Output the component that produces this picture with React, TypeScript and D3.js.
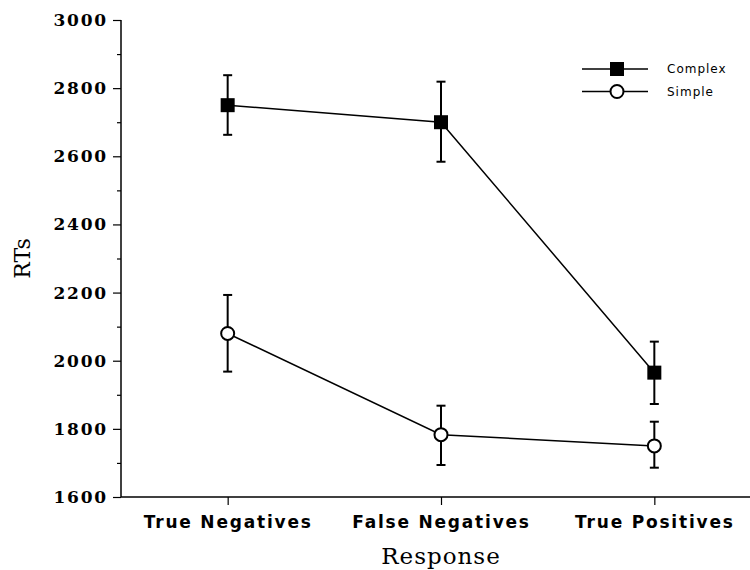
import React, { useEffect, useRef } from "react";
import * as d3 from "d3";

const categories = ["True Negatives", "False Negatives", "True Positives"];
const complexMeans = [2750, 2700, 1965];
const complexLow = [2663, 2584, 1873];
const complexHigh = [2838, 2819, 2056];
const simpleMeans = [2080, 1783, 1750];
const simpleLow = [1968, 1694, 1686];
const simpleHigh = [2193, 1868, 1821];
const yTicks = [1600, 1800, 2000, 2200, 2400, 2600, 2800, 3000];
const yMinorTicks = [1700, 1900, 2100, 2300, 2500, 2700, 2900];

const width = 750;
const height = 570;
const margin = { top: 20, left: 121, bottom: 73 };

export default function App() {
  const ref = useRef<SVGSVGElement>(null);

  useEffect(() => {
    const svg = d3.select(ref.current);
    svg.selectAll("*").remove();

    const x = d3.scalePoint().domain(categories).range([margin.left, 761]).padding(0.5);
    const y = d3.scaleLinear().domain([1600, 3000]).range([height - margin.bottom, margin.top]);

    // y axis
    const yAxis = svg.append("g").attr("transform", `translate(${margin.left},0)`)
      .call(d3.axisLeft(y).tickValues(yTicks).tickSize(8).tickPadding(5).tickFormat(d3.format("d")));
    yAxis.select(".domain").attr("stroke", "#000").attr("stroke-width", 1.5).attr("d", `M0,${y(3000)}V${y(1600)}`);
    yAxis.selectAll(".tick line").attr("stroke", "#000").attr("stroke-width", 1.2);
    yAxis.selectAll(".tick text")
      .style("font-family", "DejaVu Serif")
      .style("font-weight", "bold")
      .style("font-size", "17px")
      .style("letter-spacing", "1.8px")
      .attr("fill", "#000");

    const yMinor = svg.append("g").attr("transform", `translate(${margin.left},0)`)
      .call(d3.axisLeft(y).tickValues(yMinorTicks).tickSize(4).tickFormat(() => ""));
    yMinor.select(".domain").remove();
    yMinor.selectAll(".tick line").attr("stroke", "#000").attr("stroke-width", 1.2);

    // x axis
    const xAxis = svg.append("g").attr("transform", `translate(0,${y(1600)})`)
      .call(d3.axisBottom(x).tickSize(8).tickPadding(11));
    xAxis.select(".domain").attr("stroke", "#000").attr("stroke-width", 1.5).attr("d", `M${margin.left},0H${width}`);
    xAxis.selectAll(".tick line").attr("stroke", "#000").attr("stroke-width", 1.2);
    xAxis.selectAll(".tick text")
      .style("font-family", "DejaVu Sans")
      .style("font-weight", "bold")
      .style("font-size", "17px")
      .style("letter-spacing", "1.8px")
      .attr("fill", "#000");

    svg.append("text")
      .attr("transform", `translate(30,${(y(1600) + y(3000)) / 2}) rotate(-90)`)
      .attr("text-anchor", "middle")
      .style("font-family", "DejaVu Serif")
      .style("font-size", "22px")
      .text("RTs");

    svg.append("text")
      .attr("x", x("False Negatives")!)
      .attr("y", 564)
      .attr("text-anchor", "middle")
      .style("font-family", "DejaVu Serif")
      .style("font-size", "23px")
      .style("letter-spacing", "1px")
      .text("Response");

    const series = [
      { name: "Complex", means: complexMeans, low: complexLow, high: complexHigh, shape: "square" },
      { name: "Simple", means: simpleMeans, low: simpleLow, high: simpleHigh, shape: "circle" },
    ];

    const line = d3.line<number>().x((_, i) => x(categories[i])!).y(d => y(d));

    series.forEach(s => {
      svg.append("path").datum(s.means).attr("d", line)
        .attr("fill", "none").attr("stroke", "#000").attr("stroke-width", 1.5);

      const g = svg.append("g");
      s.means.forEach((m, i) => {
        const cx = x(categories[i])!;
        g.append("line").attr("x1", cx).attr("x2", cx).attr("y1", y(s.low[i])).attr("y2", y(s.high[i]))
          .attr("stroke", "#000").attr("stroke-width", 2);
        [s.low[i], s.high[i]].forEach(v => {
          g.append("line").attr("x1", cx - 4.5).attr("x2", cx + 4.5).attr("y1", y(v)).attr("y2", y(v))
            .attr("stroke", "#000").attr("stroke-width", 2);
        });
        if (s.shape === "square") {
          g.append("rect").attr("x", cx - 7).attr("y", y(m) - 7).attr("width", 14).attr("height", 14).attr("fill", "#000");
        } else {
          g.append("circle").attr("cx", cx).attr("cy", y(m)).attr("r", 6.5)
            .attr("fill", "#fff").attr("stroke", "#000").attr("stroke-width", 2);
        }
      });
    });

    // legend
    const legend = svg.append("g").attr("transform", "translate(582,69)");
    series.forEach((s, i) => {
      const row = legend.append("g").attr("transform", `translate(0,${i * 22.5})`);
      row.append("line").attr("x1", 0).attr("x2", 66).attr("stroke", "#000").attr("stroke-width", 1.5);
      if (s.shape === "square") {
        row.append("rect").attr("x", 28).attr("y", -7).attr("width", 14).attr("height", 14).attr("fill", "#000");
      } else {
        row.append("circle").attr("cx", 35).attr("cy", 0).attr("r", 6.5)
          .attr("fill", "#fff").attr("stroke", "#000").attr("stroke-width", 2);
      }
      row.append("text").attr("x", 85).attr("y", 4)
        .style("font-family", "DejaVu Sans")
        .style("font-size", "12px")
        .style("letter-spacing", "1px")
        .text(s.name);
    });
  }, []);

  return (
    <div style={{ position: "absolute", left: 0, top: 0 }}>
      <svg ref={ref} width={width} height={height} style={{ display: "block", background: "#fff" }} />
    </div>
  );
}
